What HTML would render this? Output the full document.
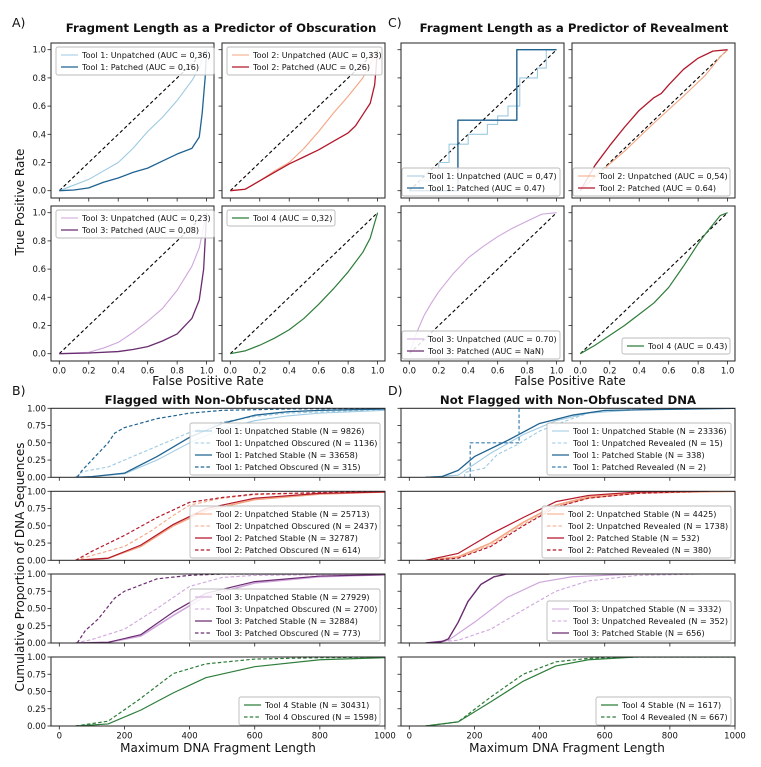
<!DOCTYPE html>
<html><head><meta charset="utf-8">
<style>
html,body{margin:0;padding:0;background:#fff;}
svg{display:block;font-family:"DejaVu Sans","Liberation Sans",sans-serif;}
</style></head>
<body>
<svg id="fig" width="761" height="767" viewBox="0 0 761 767" xmlns="http://www.w3.org/2000/svg"></svg>
<script>
// ROC data: Panel A (obscuration)
const rocA_t1u_x=[0,0.1,0.2,0.3,0.4,0.5,0.6,0.7,0.8,0.9,0.95,1];
const rocA_t1u_y=[0,0.04,0.08,0.14,0.2,0.3,0.42,0.52,0.64,0.78,0.87,1];
const rocA_t1p_x=[0,0.1,0.2,0.3,0.4,0.5,0.6,0.7,0.8,0.9,0.95,0.97,0.99,1];
const rocA_t1p_y=[0,0.005,0.02,0.06,0.09,0.13,0.16,0.21,0.26,0.3,0.38,0.55,0.8,1];
const rocA_t2u_x=[0,0.1,0.2,0.3,0.4,0.5,0.6,0.7,0.8,0.9,1];
const rocA_t2u_y=[0,0.01,0.07,0.14,0.2,0.3,0.42,0.55,0.67,0.8,1];
const rocA_t2p_x=[0,0.1,0.2,0.3,0.4,0.5,0.6,0.7,0.8,0.85,0.9,0.95,0.98,1];
const rocA_t2p_y=[0,0.01,0.07,0.13,0.19,0.24,0.29,0.35,0.41,0.46,0.54,0.62,0.75,1];
const rocA_t3u_x=[0,0.2,0.3,0.4,0.5,0.6,0.7,0.8,0.9,0.95,1];
const rocA_t3u_y=[0,0.01,0.04,0.08,0.15,0.23,0.32,0.45,0.62,0.75,1];
const rocA_t3p_x=[0,0.2,0.4,0.5,0.6,0.7,0.8,0.9,0.95,0.98,1];
const rocA_t3p_y=[0,0.005,0.015,0.03,0.05,0.09,0.14,0.25,0.38,0.6,1];
const rocA_t4_x=[0,0.1,0.2,0.3,0.4,0.5,0.6,0.7,0.8,0.9,0.95,1];
const rocA_t4_y=[0,0.02,0.06,0.11,0.17,0.25,0.35,0.46,0.58,0.72,0.82,1];
// ROC data: Panel C (revealment)
const rocC_t1u_x=[0,0.07,0.07,0.2,0.2,0.27,0.27,0.4,0.4,0.53,0.53,0.6,0.6,0.67,0.67,0.75,0.75,0.87,0.87,0.93,0.93,1];
const rocC_t1u_y=[0,0,0.07,0.07,0.2,0.2,0.33,0.33,0.4,0.4,0.47,0.47,0.53,0.53,0.6,0.6,0.8,0.8,0.87,0.87,1,1];
const rocC_t1p_x=[0,0.33,0.33,0.73,0.73,1];
const rocC_t1p_y=[0,0,0.5,0.5,1,1];
const rocC_t2u_x=[0,0.1,0.3,0.5,0.7,0.85,0.95,1];
const rocC_t2u_y=[0,0.1,0.28,0.48,0.67,0.82,0.95,1];
const rocC_t2p_x=[0,0.1,0.2,0.3,0.4,0.5,0.55,0.6,0.7,0.8,0.9,1];
const rocC_t2p_y=[0,0.18,0.32,0.45,0.57,0.66,0.69,0.75,0.86,0.94,0.99,1];
const rocC_t3u_x=[0,0.05,0.1,0.15,0.2,0.3,0.4,0.5,0.6,0.7,0.8,0.9,1];
const rocC_t3u_y=[0,0.15,0.27,0.36,0.44,0.57,0.68,0.76,0.83,0.89,0.94,0.99,1];
const rocC_t4_x=[0,0.1,0.2,0.3,0.4,0.5,0.6,0.7,0.8,0.85,0.95,1];
const rocC_t4_y=[0,0.06,0.13,0.2,0.28,0.36,0.47,0.62,0.78,0.85,0.98,1];
// CDF data: Panel B
const cdfB_t1us_x=[50,100,200,300,400,500,600,700,800,1000];
const cdfB_t1us_y=[0,0.01,0.05,0.25,0.5,0.7,0.82,0.89,0.93,0.97];
const cdfB_t1uo_x=[50,70,150,200,300,400,500,600,700,1000];
const cdfB_t1uo_y=[0,0.08,0.15,0.25,0.45,0.65,0.8,0.88,0.93,0.98];
const cdfB_t1ps_x=[50,100,200,300,400,500,600,700,800,1000];
const cdfB_t1ps_y=[0,0.01,0.06,0.3,0.58,0.78,0.9,0.95,0.97,0.99];
const cdfB_t1po_x=[55,70,100,150,170,200,300,400,500,700,1000];
const cdfB_t1po_y=[0,0.1,0.25,0.5,0.64,0.72,0.85,0.93,0.97,0.99,1];
const cdfB_t2us_x=[50,150,250,350,450,600,800,1000];
const cdfB_t2us_y=[0,0.03,0.2,0.5,0.72,0.88,0.96,0.99];
const cdfB_t2uo_x=[50,100,200,280,350,400,500,600,1000];
const cdfB_t2uo_y=[0,0.07,0.2,0.42,0.65,0.8,0.9,0.95,1];
const cdfB_t2ps_x=[50,150,250,350,450,600,800,1000];
const cdfB_t2ps_y=[0,0.03,0.22,0.52,0.75,0.9,0.97,0.99];
const cdfB_t2po_x=[50,100,200,300,400,500,600,1000];
const cdfB_t2po_y=[0,0.13,0.36,0.62,0.84,0.91,0.96,1];
const cdfB_t3us_x=[50,150,250,350,450,600,800,1000];
const cdfB_t3us_y=[0,0.01,0.1,0.4,0.68,0.87,0.96,0.99];
const cdfB_t3uo_x=[50,100,200,300,400,500,600,1000];
const cdfB_t3uo_y=[0,0.05,0.2,0.5,0.82,0.95,0.98,1];
const cdfB_t3ps_x=[50,150,250,350,450,600,800,1000];
const cdfB_t3ps_y=[0,0.01,0.12,0.45,0.72,0.89,0.97,0.99];
const cdfB_t3po_x=[55,80,120,170,200,300,400,500,1000];
const cdfB_t3po_y=[0,0.18,0.35,0.65,0.75,0.93,0.98,1,1];
const cdfB_t4s_x=[50,150,250,350,450,600,800,1000];
const cdfB_t4s_y=[0,0.03,0.23,0.48,0.7,0.86,0.96,0.99];
const cdfB_t4o_x=[50,150,250,350,450,600,800,1000];
const cdfB_t4o_y=[0,0.07,0.4,0.76,0.9,0.97,0.99,1];
// CDF data: Panel D
const cdfD_t1us_x=[50,150,250,350,450,550,700,1000];
const cdfD_t1us_y=[0,0.03,0.35,0.62,0.82,0.93,0.98,1];
const cdfD_t1ur_x=[170,170,230,270,330,400,470,550,720];
const cdfD_t1ur_y=[0,0.07,0.13,0.33,0.47,0.67,0.8,0.93,1];
const cdfD_t1ps_x=[50,100,150,200,300,400,500,600,1000];
const cdfD_t1ps_y=[0,0.01,0.1,0.3,0.53,0.78,0.9,0.97,1];
const cdfD_t1pr_x=[187,187,337,337];
const cdfD_t1pr_y=[0,0.5,0.5,1];
const cdfD_t2us_x=[50,150,250,350,450,550,700,1000];
const cdfD_t2us_y=[0,0.05,0.25,0.55,0.8,0.92,0.98,1];
const cdfD_t2ur_x=[50,150,250,350,450,550,700,1000];
const cdfD_t2ur_y=[0,0.04,0.22,0.52,0.78,0.9,0.97,1];
const cdfD_t2ps_x=[50,150,250,350,450,550,700,920];
const cdfD_t2ps_y=[0,0.1,0.38,0.62,0.85,0.94,0.99,1];
const cdfD_t2pr_x=[60,150,250,350,450,550,700,900];
const cdfD_t2pr_y=[0,0.03,0.2,0.5,0.77,0.9,0.97,1];
const cdfD_t3us_x=[50,120,200,300,400,500,700];
const cdfD_t3us_y=[0,0.04,0.3,0.66,0.88,0.96,1];
const cdfD_t3ur_x=[50,150,250,350,450,550,700,900];
const cdfD_t3ur_y=[0,0.04,0.2,0.48,0.75,0.9,0.98,1];
const cdfD_t3ps_x=[50,100,120,150,180,220,260,300,430];
const cdfD_t3ps_y=[0,0.02,0.06,0.3,0.6,0.85,0.96,1,1];
const cdfD_t4s_x=[50,150,250,350,450,550,700,1000];
const cdfD_t4s_y=[0,0.06,0.35,0.65,0.87,0.96,1,1];
const cdfD_t4r_x=[50,150,250,350,450,550,700,1000];
const cdfD_t4r_y=[0,0.06,0.42,0.75,0.93,0.98,1,1];
// tick labels
const rocTicks=[0,0.2,0.4,0.6,0.8,1.0];
const rocTickLabels=["0.0","0.2","0.4","0.6","0.8","1.0"];
const cdfYTicks=[0,0.25,0.5,0.75,1.0];
const cdfYTickLabels=["0.00","0.25","0.50","0.75","1.00"];
const cdfXTicks=[0,200,400,600,800,1000];
const cdfXTickLabels=["0","200","400","600","800","1000"];

const C={b1:"#9ecae1",b2:"#1f6391",r1:"#f4a582",r2:"#b2182b",p1:"#cfa6dc",p2:"#6a2c70",g:"#2e7d3a"};
const NS="http://www.w3.org/2000/svg";
const svg=document.getElementById('fig');
function mk(tag,attrs,parent){const e=document.createElementNS(NS,tag);for(const k in attrs)e.setAttribute(k,attrs[k]);(parent||svg).appendChild(e);return e;}
function txt(s,x,y,size,anchor,weight,parent){const t=mk('text',{x:x,y:y,'font-size':size,'text-anchor':anchor||'start','font-weight':weight||'normal',fill:'#111'},parent);t.textContent=s;return t;}

function makeAxes(name,fx,fy,fw,fh,dx0,dx1,px0,px1,dy0,dy1,py0,py1){
  const g=mk('g',{});
  
  
  const ax={g:g,fx:fx,fy:fy,fw:fw,fh:fh,
    sx:v=>px0+(v-dx0)/(dx1-dx0)*(px1-px0),
    sy:v=>py0+(v-dy0)/(dy1-dy0)*(py1-py0)};
  const cp=mk('clipPath',{id:'cp-'+name},g);
  mk('rect',{x:fx,y:fy,width:fw,height:fh},cp);
  ax.plot=mk('g',{'clip-path':'url(#cp-'+name+')'},g);
  return ax;
}
function frame(ax){
  const r=mk('rect',{x:ax.fx,y:ax.fy,width:ax.fw,height:ax.fh,fill:'none',stroke:'#222','stroke-width':1},ax.g);
  
  
}
function line(ax,xs,ys,color,w,dash,name){
  let d='';
  for(let i=0;i<xs.length;i++)d+=(i?'L':'M')+ax.sx(xs[i]).toFixed(2)+','+ax.sy(ys[i]).toFixed(2);
  const p=mk('path',{d:d,fill:'none',stroke:color,'stroke-width':w,'stroke-dasharray':dash||'none','stroke-linejoin':'round'},ax.plot);
  
  
}
function xticks(ax,ticks,labels,show){
  ticks.forEach((t,i)=>{const x=ax.sx(t);
    mk('line',{x1:x,x2:x,y1:ax.fy+ax.fh,y2:ax.fy+ax.fh+3.5,stroke:'#222','stroke-width':0.8},ax.g);
    if(show){const l=txt(labels[i],x,ax.fy+ax.fh+12.5,8.5,'middle',null,ax.g);
      
      }
  });
}
function yticks(ax,ticks,labels,show){
  ticks.forEach((t,i)=>{const y=ax.sy(t);
    mk('line',{x1:ax.fx,x2:ax.fx-3.5,y1:y,y2:y,stroke:'#222','stroke-width':0.8},ax.g);
    if(show){const l=txt(labels[i],ax.fx-5,y+3,8.5,'end',null,ax.g);
      
      }
  });
}
function legend(ax,x,y,w,entries){
  const g=mk('g',{},ax.g);
  
  
  const h=entries.length*12+4;
  mk('rect',{x:x,y:y,width:w,height:h,rx:2,fill:'#fff','fill-opacity':0.85,stroke:'#bbb','stroke-width':0.9},g);
  entries.forEach((e,i)=>{const cy=y+8+i*12;
    const ln=mk('line',{x1:x+5,x2:x+22,y1:cy,y2:cy,stroke:e[1],'stroke-width':e[2],'stroke-dasharray':e[3]||'none'},g);
    
    
    const t=txt(e[0],x+26,cy+3,8.1,'start',null,g);
    
    
  });
}
function diag(ax){
  const p=mk('line',{x1:ax.sx(0),y1:ax.sy(0),x2:ax.sx(1),y2:ax.sy(1),stroke:'#000','stroke-width':1.1,'stroke-dasharray':'3.5,2.5'},ax.plot);
  
  
}
const D='3.5,2.2';
// ---------- Panel A ----------
function rocAx(name,fx,fy){return makeAxes(name,fx,fy,163,155,0,1,fx+8.3,fx+155.6,0,1,fy+147.7,fy+6.7);}
let a=rocAx('roc-a-tool1',51,43);diag(a);
line(a,rocA_t1u_x,rocA_t1u_y,C.b1,1.1,null,'roc-a-tool1-unpatched');
line(a,rocA_t1p_x,rocA_t1p_y,C.b2,1.3,null,'roc-a-tool1-patched');
frame(a);xticks(a,rocTicks,rocTickLabels,false);yticks(a,rocTicks,rocTickLabels,true);
legend(a,56,47,158,[["Tool 1: Unpatched (AUC = 0,36)",C.b1,1.1],["Tool 1: Patched (AUC = 0,16)",C.b2,1.3]]);
a=rocAx('roc-a-tool2',222,43);diag(a);
line(a,rocA_t2u_x,rocA_t2u_y,C.r1,1.1,null,'roc-a-tool2-unpatched');
line(a,rocA_t2p_x,rocA_t2p_y,C.r2,1.3,null,'roc-a-tool2-patched');
frame(a);xticks(a,rocTicks,rocTickLabels,false);yticks(a,rocTicks,rocTickLabels,false);
legend(a,227,47,155,[["Tool 2: Unpatched (AUC = 0,33)",C.r1,1.1],["Tool 2: Patched (AUC = 0,26)",C.r2,1.3]]);
a=rocAx('roc-a-tool3',51,206);diag(a);
line(a,rocA_t3u_x,rocA_t3u_y,C.p1,1.1,null,'roc-a-tool3-unpatched');
line(a,rocA_t3p_x,rocA_t3p_y,C.p2,1.3,null,'roc-a-tool3-patched');
frame(a);xticks(a,rocTicks,rocTickLabels,true);yticks(a,rocTicks,rocTickLabels,true);
legend(a,56,210,158,[["Tool 3: Unpatched (AUC = 0,23)",C.p1,1.1],["Tool 3: Patched (AUC = 0,08)",C.p2,1.3]]);
a=rocAx('roc-a-tool4',222,206);diag(a);
line(a,rocA_t4_x,rocA_t4_y,C.g,1.2,null,'roc-a-tool4');
frame(a);xticks(a,rocTicks,rocTickLabels,true);yticks(a,rocTicks,rocTickLabels,false);
legend(a,227,210,108,[["Tool 4 (AUC = 0,32)",C.g,1.2]]);
// ---------- Panel C ----------
a=rocAx('roc-c-tool1',401,43);diag(a);
line(a,rocC_t1u_x,rocC_t1u_y,C.b1,1.1,null,'roc-c-tool1-unpatched');
line(a,rocC_t1p_x,rocC_t1p_y,C.b2,1.4,null,'roc-c-tool1-patched');
frame(a);xticks(a,rocTicks,rocTickLabels,false);yticks(a,rocTicks,rocTickLabels,false);
legend(a,402,168,158,[["Tool 1: Unpatched (AUC = 0,47)",C.b1,1.1],["Tool 1: Patched (AUC = 0.47)",C.b2,1.3]]);
a=rocAx('roc-c-tool2',572,43);diag(a);
line(a,rocC_t2u_x,rocC_t2u_y,C.r1,1.1,null,'roc-c-tool2-unpatched');
line(a,rocC_t2p_x,rocC_t2p_y,C.r2,1.3,null,'roc-c-tool2-patched');
frame(a);xticks(a,rocTicks,rocTickLabels,false);yticks(a,rocTicks,rocTickLabels,false);
legend(a,573,168,157,[["Tool 2: Unpatched (AUC = 0,54)",C.r1,1.1],["Tool 2: Patched (AUC = 0.64)",C.r2,1.3]]);
a=rocAx('roc-c-tool3',401,206);diag(a);
line(a,rocC_t3u_x,rocC_t3u_y,C.p1,1.1,null,'roc-c-tool3-unpatched');
frame(a);xticks(a,rocTicks,rocTickLabels,true);yticks(a,rocTicks,rocTickLabels,false);
legend(a,402,331,158,[["Tool 3: Unpatched (AUC = 0.70)",C.p1,1.1],["Tool 3: Patched (AUC = NaN)",C.p2,1.3]]);
a=rocAx('roc-c-tool4',572,206);diag(a);
line(a,rocC_t4_x,rocC_t4_y,C.g,1.2,null,'roc-c-tool4');
frame(a);xticks(a,rocTicks,rocTickLabels,true);yticks(a,rocTicks,rocTickLabels,false);
legend(a,622,338,108,[["Tool 4 (AUC = 0.43)",C.g,1.2]]);
// ---------- Panels B & D ----------
const rowsY=[408.3,491.3,574,657];
function cdfAx(name,fx,px0,row){const y=rowsY[row];return makeAxes(name,fx,y,334,69,0,1000,px0,fx+334,0,1,y+69,y);}
function cdfPanel(prefix,fx,px0,rows,legs){
  rows.forEach((series,r)=>{
    const ax=cdfAx(prefix+'-tool'+(r+1),fx,px0,r);
    series.forEach(s=>line(ax,s[0],s[1],s[2],s[3],s[4],s[5]));
    frame(ax);
    xticks(ax,cdfXTicks,cdfXTickLabels,r===3);
    yticks(ax,cdfYTicks,cdfYTickLabels,prefix==='cdf-b');
    const L=legs[r];legend(ax,L[0],L[1],L[2],L[3]);
  });
}
cdfPanel('cdf-b',51,59.3,[
 [[cdfB_t1us_x,cdfB_t1us_y,C.b1,1.1,null,'b-tool1-unpatched-stable'],[cdfB_t1uo_x,cdfB_t1uo_y,C.b1,1.1,D,'b-tool1-unpatched-obscured'],[cdfB_t1ps_x,cdfB_t1ps_y,C.b2,1.3,null,'b-tool1-patched-stable'],[cdfB_t1po_x,cdfB_t1po_y,C.b2,1.2,D,'b-tool1-patched-obscured']],
 [[cdfB_t2us_x,cdfB_t2us_y,C.r1,1.6,null,'b-tool2-unpatched-stable'],[cdfB_t2uo_x,cdfB_t2uo_y,C.r1,1.1,D,'b-tool2-unpatched-obscured'],[cdfB_t2ps_x,cdfB_t2ps_y,C.r2,1.2,null,'b-tool2-patched-stable'],[cdfB_t2po_x,cdfB_t2po_y,C.r2,1.2,D,'b-tool2-patched-obscured']],
 [[cdfB_t3us_x,cdfB_t3us_y,C.p1,1.6,null,'b-tool3-unpatched-stable'],[cdfB_t3uo_x,cdfB_t3uo_y,C.p1,1.1,D,'b-tool3-unpatched-obscured'],[cdfB_t3ps_x,cdfB_t3ps_y,C.p2,1.2,null,'b-tool3-patched-stable'],[cdfB_t3po_x,cdfB_t3po_y,C.p2,1.2,D,'b-tool3-patched-obscured']],
 [[cdfB_t4s_x,cdfB_t4s_y,C.g,1.2,null,'b-tool4-stable'],[cdfB_t4o_x,cdfB_t4o_y,C.g,1.2,D,'b-tool4-obscured']]
],[
 [190,423,190,[["Tool 1: Unpatched Stable (N = 9826)",C.b1,1.1],["Tool 1: Unpatched Obscured (N = 1136)",C.b1,1.1,D],["Tool 1: Patched Stable (N = 33658)",C.b2,1.3],["Tool 1: Patched Obscured (N = 315)",C.b2,1.2,D]]],
 [190,506,190,[["Tool 2: Unpatched Stable (N = 25713)",C.r1,1.1],["Tool 2: Unpatched Obscured (N = 2437)",C.r1,1.1,D],["Tool 2: Patched Stable (N = 32787)",C.r2,1.3],["Tool 2: Patched Obscured (N = 614)",C.r2,1.2,D]]],
 [190,589,190,[["Tool 3: Unpatched Stable (N = 27929)",C.p1,1.1],["Tool 3: Unpatched Obscured (N = 2700)",C.p1,1.1,D],["Tool 3: Patched Stable (N = 32884)",C.p2,1.3],["Tool 3: Patched Obscured (N = 773)",C.p2,1.2,D]]],
 [239,697,141,[["Tool 4 Stable (N = 30431)",C.g,1.2],["Tool 4 Obscured (N = 1598)",C.g,1.2,D]]]
]);
cdfPanel('cdf-d',401,409.3,[
 [[cdfD_t1us_x,cdfD_t1us_y,C.b1,1.1,null,'d-tool1-unpatched-stable'],[cdfD_t1ur_x,cdfD_t1ur_y,C.b1,1.1,D,'d-tool1-unpatched-revealed'],[cdfD_t1ps_x,cdfD_t1ps_y,C.b2,1.3,null,'d-tool1-patched-stable'],[cdfD_t1pr_x,cdfD_t1pr_y,'#3a7fb0',1.2,D,'d-tool1-patched-revealed']],
 [[cdfD_t2us_x,cdfD_t2us_y,C.r1,1.6,null,'d-tool2-unpatched-stable'],[cdfD_t2ur_x,cdfD_t2ur_y,C.r1,1.1,D,'d-tool2-unpatched-revealed'],[cdfD_t2ps_x,cdfD_t2ps_y,C.r2,1.2,null,'d-tool2-patched-stable'],[cdfD_t2pr_x,cdfD_t2pr_y,C.r2,1.2,D,'d-tool2-patched-revealed']],
 [[cdfD_t3us_x,cdfD_t3us_y,C.p1,1.2,null,'d-tool3-unpatched-stable'],[cdfD_t3ur_x,cdfD_t3ur_y,C.p1,1.1,D,'d-tool3-unpatched-revealed'],[cdfD_t3ps_x,cdfD_t3ps_y,C.p2,1.4,null,'d-tool3-patched-stable']],
 [[cdfD_t4s_x,cdfD_t4s_y,C.g,1.2,null,'d-tool4-stable'],[cdfD_t4r_x,cdfD_t4r_y,C.g,1.2,D,'d-tool4-revealed']]
],[
 [547,423,184,[["Tool 1: Unpatched Stable (N = 23336)",C.b1,1.1],["Tool 1: Unpatched Revealed (N = 15)",C.b1,1.1,D],["Tool 1: Patched Stable (N = 338)",C.b2,1.3],["Tool 1: Patched Revealed (N = 2)",'#3a7fb0',1.2,D]]],
 [542,506,189,[["Tool 2: Unpatched Stable (N = 4425)",C.r1,1.1],["Tool 2: Unpatched Revealed (N = 1738)",C.r1,1.1,D],["Tool 2: Patched Stable (N = 532)",C.r2,1.3],["Tool 2: Patched Revealed (N = 380)",C.r2,1.2,D]]],
 [547,601,184,[["Tool 3: Unpatched Stable (N = 3332)",C.p1,1.1],["Tool 3: Unpatched Revealed (N = 352)",C.p1,1.1,D],["Tool 3: Patched Stable (N = 656)",C.p2,1.3]]],
 [596,697,135,[["Tool 4 Stable (N = 1617)",C.g,1.2],["Tool 4 Revealed (N = 667)",C.g,1.2,D]]]
]);
// ---------- titles & labels ----------
function label(s,x,y,size,anchor,weight,name,rot){
  const t=txt(s,x,y,size,anchor,weight);
  if(rot)t.setAttribute('transform','rotate(-90 '+x+' '+y+')');
  
  
}
label("A)",12,27,12.5,'start',null,'panel-label-a');
label("C)",388,27,12.5,'start',null,'panel-label-c');
label("B)",12,395,12.5,'start',null,'panel-label-b');
label("D)",388,395,12.5,'start',null,'panel-label-d');
label("Fragment Length as a Predictor of Obscuration",221,32,11.7,'middle','bold','title-a');
label("Fragment Length as a Predictor of Revealment",574,32,11.7,'middle','bold','title-c');
label("Flagged with Non-Obfuscated DNA",219,404,11.7,'middle','bold','title-b');
label("Not Flagged with Non-Obfuscated DNA",568,404,11.7,'middle','bold','title-d');
label("False Positive Rate",208,385,12,'middle',null,'x-axis-title-a');
label("False Positive Rate",570,385,12,'middle',null,'x-axis-title-c');
label("Maximum DNA Fragment Length",218,752,12,'middle',null,'x-axis-title-b');
label("Maximum DNA Fragment Length",567,752,12,'middle',null,'x-axis-title-d');
label("True Positive Rate",24,202,12,'middle',null,'y-axis-title-roc',true);
label("Cumulative Proportion of DNA Sequences",24,567,12,'middle',null,'y-axis-title-cdf',true);
</script>
</body></html>
